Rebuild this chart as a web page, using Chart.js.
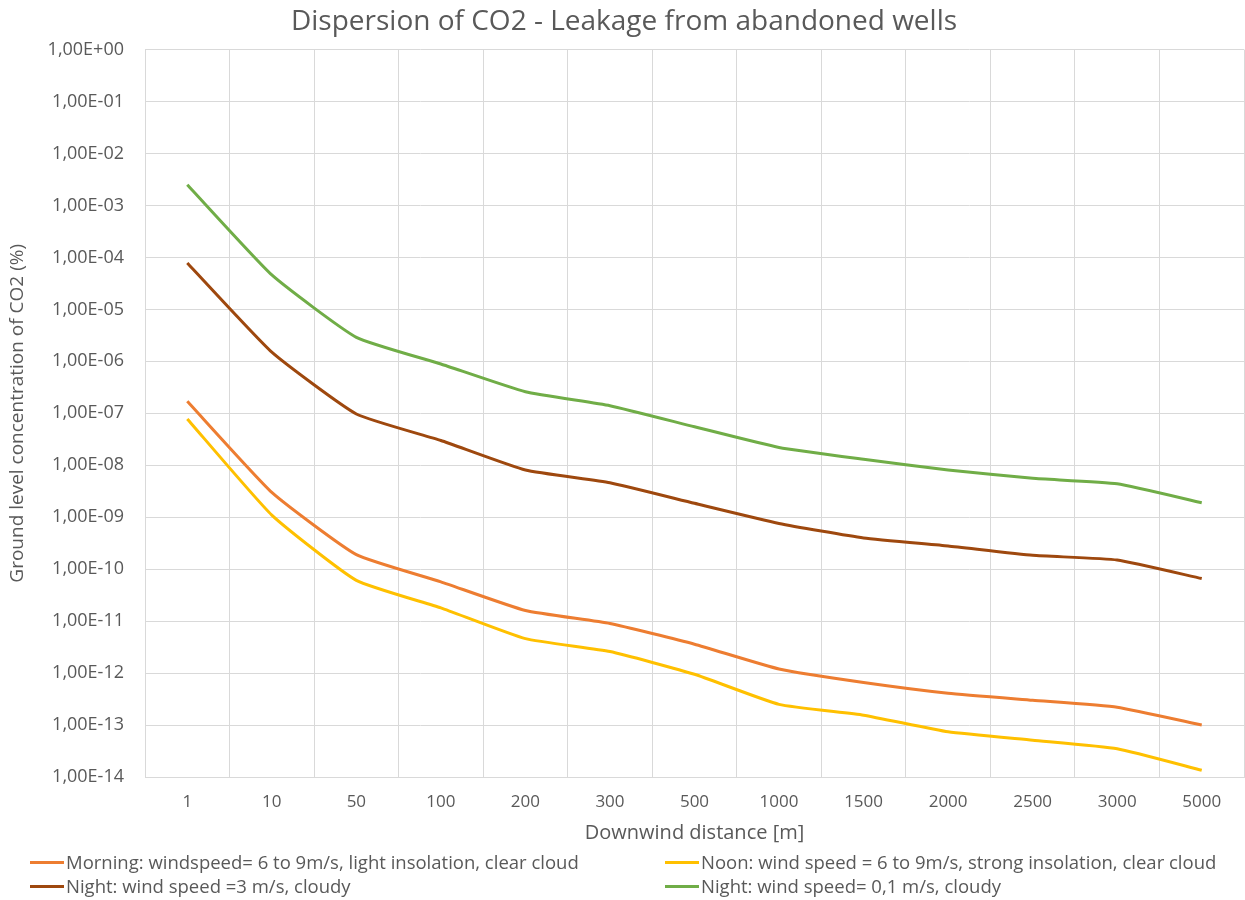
<!DOCTYPE html>
<html>
<head>
<meta charset="utf-8">
<script src="https://cdn.jsdelivr.net/npm/chart.js@4.4.1/dist/chart.umd.min.js"></script>
<style>
    body { margin: 0; background: #fff; font-family: "Open Sans", sans-serif; }
    #wrap { position: relative; width: 1245px; height: 900px; }
    #chart-box { position: absolute; left: 0; top: 0; width: 1245px; height: 850px; }
    #legend { position: absolute; left: 0; top: 850px; width: 1245px; height: 50px; }
    .leg-item { position: absolute; display: flex; align-items: center; font-size: 18.5px; line-height: 24px; color: #595959; white-space: nowrap; }
    .leg-line { width: 34px; height: 3px; margin-right: 2px; }
</style>
</head>
<body>
<div id="wrap">
    <div id="chart-box"><canvas id="co2-chart"></canvas></div>
    <div id="legend"></div>
</div>
<script>
// Datos
const distances = ['1', '10', '50', '100', '200', '300', '500', '1000', '1500', '2000', '2500', '3000', '5000'];

const morning = [1.7e-7, 3.0e-9, 1.9e-10, 5.7e-11, 1.6e-11, 9.0e-12, 3.6e-12, 1.2e-12, 6.6e-13, 4.1e-13, 3.0e-13, 2.2e-13, 1.0e-13];
const noon = [7.8e-8, 1.1e-9, 6.1e-11, 1.8e-11, 4.6e-12, 2.6e-12, 9.5e-13, 2.5e-13, 1.55e-13, 7.4e-14, 5.1e-14, 3.5e-14, 1.35e-14];
const nightCloudy = [7.8e-5, 1.5e-6, 9.7e-8, 3.0e-8, 8.1e-9, 4.6e-9, 1.85e-9, 7.6e-10, 4.0e-10, 2.8e-10, 1.85e-10, 1.5e-10, 6.6e-11];
const nightCalm = [2.5e-3, 4.6e-5, 2.9e-6, 8.9e-7, 2.6e-7, 1.4e-7, 5.5e-8, 2.2e-8, 1.3e-8, 8.1e-9, 5.6e-9, 4.4e-9, 1.9e-9];

const seriesLabels = [
    'Morning: windspeed= 6 to 9m/s, light insolation, clear cloud',
    'Noon: wind speed = 6 to 9m/s, strong insolation, clear cloud',
    'Night: wind speed =3 m/s, cloudy',
    'Night: wind speed= 0,1 m/s, cloudy'
];
const seriesColors = ['#ED7D31', '#FFC000', '#9E480E', '#70AD47'];
const yTicks = [1e0, 1e-1, 1e-2, 1e-3, 1e-4, 1e-5, 1e-6, 1e-7, 1e-8, 1e-9, 1e-10, 1e-11, 1e-12, 1e-13, 1e-14];

const textColor = '#595959';
const gridColor = '#d9d9d9';
const fontFamily = '"Open Sans", sans-serif';

function formatExp(v) {
    const exp = Math.round(Math.log10(v));
    const sign = exp < 0 ? '-' : '+';
    const abs = Math.abs(exp);
    return '1,00E' + sign + (abs < 10 ? '0' + abs : abs);
}

const datasets = [morning, noon, nightCloudy, nightCalm].map((data, i) => ({
    label: seriesLabels[i],
    data: data,
    borderColor: seriesColors[i],
    backgroundColor: seriesColors[i],
    borderWidth: 3,
    pointRadius: 0,
    tension: 0.15,
    fill: false
}));

const chart = new Chart(document.getElementById('co2-chart'), {
    type: 'line',
    data: { labels: distances, datasets: datasets },
    options: {
        responsive: true,
        maintainAspectRatio: false,
        animation: false,
        layout: { padding: { left: 4, right: 1, top: 0, bottom: 0 } },
        plugins: {
            legend: { display: false },
            tooltip: { enabled: false },
            title: {
                display: true,
                text: 'Dispersion of CO2 - Leakage from abandoned wells',
                color: textColor,
                font: { family: fontFamily, size: 28, weight: 'normal' },
                padding: { top: 5, bottom: 11 }
            }
        },
        scales: {
            x: {
                type: 'category',
                offset: true,
                grid: { color: gridColor, offset: true, drawTicks: false },
                border: { color: gridColor },
                ticks: { color: textColor, font: { family: fontFamily, size: 17 }, padding: 15, maxRotation: 0 },
                title: {
                    display: true,
                    text: 'Downwind distance [m]',
                    color: textColor,
                    font: { family: fontFamily, size: 20 },
                    padding: { top: 0, bottom: 5 }
                },
                afterFit: (scale) => { scale.height = 73; }
            },
            y: {
                type: 'logarithmic',
                min: 1e-14,
                max: 1,
                afterBuildTicks: (scale) => { scale.ticks = yTicks.map(v => ({ value: v })); },
                grid: { color: gridColor, drawTicks: false },
                border: { color: gridColor },
                ticks: {
                    color: textColor,
                    font: { family: fontFamily, size: 18 },
                    padding: 21,
                    callback: (v) => formatExp(v)
                },
                title: {
                    display: true,
                    text: 'Ground level concentration of CO2 (%)',
                    color: textColor,
                    font: { family: fontFamily, size: 19 },
                    padding: { top: 2, bottom: 0 }
                },
                afterFit: (scale) => { scale.width = 141; }
            }
        }
    }
});

// Leyenda HTML en dos columnas
const legendPos = [
    { left: 30, top: 0 },
    { left: 665, top: 0 },
    { left: 30, top: 24 },
    { left: 665, top: 24 }
];
const legendEl = document.getElementById('legend');
seriesLabels.forEach((label, i) => {
    const item = document.createElement('div');
    item.className = 'leg-item';
    item.style.left = legendPos[i].left + 'px';
    item.style.top = legendPos[i].top + 'px';
    const line = document.createElement('span');
    line.className = 'leg-line';
    line.style.background = seriesColors[i];
    const txt = document.createElement('span');
    txt.textContent = label;
    item.appendChild(line);
    item.appendChild(txt);
    legendEl.appendChild(item);
});
</script>
</body>
</html>
